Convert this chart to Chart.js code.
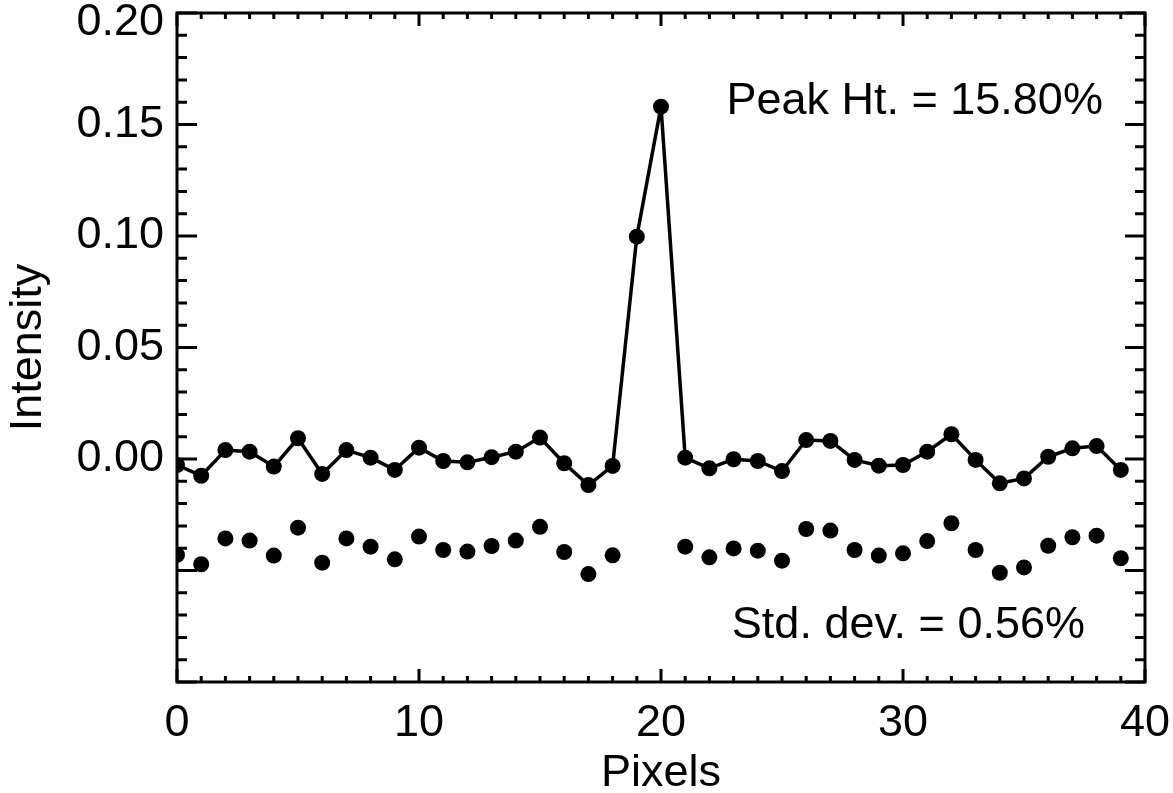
<!DOCTYPE html>
<html>
<head>
<meta charset="utf-8">
<title>Intensity profile</title>
<script src="https://cdn.jsdelivr.net/npm/chart.js@4.4.1/dist/chart.umd.min.js"></script>
<style>
    html, body { margin: 0; padding: 0; background: #fff; }
    #wrap { width: 1173px; height: 793px; }
</style>
</head>
<body>
<div id="wrap"><canvas id="profileChart"></canvas></div>
<script>
// --- Data ---

const pixels = [0, 1, 2, 3, 4, 5, 6, 7, 8, 9,
    10, 11, 12, 13, 14, 15, 16, 17, 18, 19,
    20, 21, 22, 23, 24, 25, 26, 27, 28, 29,
    30, 31, 32, 33, 34, 35, 36, 37, 38, 39];

// profile through the peak (joined by a line)
const profile = [-0.0027, -0.0075, 0.0040, 0.0033, -0.0034, 0.0093, -0.0067, 0.0040, 0.0006, -0.0049,
    0.0051, -0.0009, -0.0015, 0.0008, 0.0033, 0.0096, -0.0019, -0.0117, -0.0031, 0.0997,
    0.1580, 0.0006, -0.0042, -0.0001, -0.0009, -0.0054, 0.0085, 0.0081, -0.0004, -0.0030,
    -0.0027, 0.0033, 0.0111, -0.0004, -0.0109, -0.0087, 0.0010, 0.0048, 0.0058, -0.0049];

// background points only (no values at pixels 19 and 20)
const background = [-0.0430, -0.0472, -0.0356, -0.0366, -0.0433, -0.0308, -0.0465, -0.0356, -0.0393, -0.0450,
    -0.0348, -0.0408, -0.0415, -0.0390, -0.0366, -0.0304, -0.0417, -0.0516, -0.0432, null,
    null, -0.0393, -0.0441, -0.0401, -0.0411, -0.0456, -0.0314, -0.0321, -0.0408, -0.0433,
    -0.0423, -0.0368, -0.0288, -0.0408, -0.0510, -0.0486, -0.0389, -0.0351, -0.0344, -0.0445];

const xTickLabels = [0, 10, 20, 30, 40];
const yTickLabels = ["0.00", "0.05", "0.10", "0.15", "0.20"];

const peakText = "Peak Ht. = 15.80%";
const stdText = "Std. dev. = 0.56%";

// --- Chart setup ---

const FONT = '"Liberation Sans", Arial, Helvetica, sans-serif';
const SIZE = 45;

const toPoints = (ys) => pixels.map((px, i) => ({ x: px, y: ys[i] }));

// IDL style frame: box with inward ticks on all four sides, plus the text notes
const frameTicks = {
    id: "frameTicks",
    afterDatasetsDraw(chart) {
        const { ctx, chartArea: a, scales: { x, y } } = chart;
        ctx.save();
        ctx.strokeStyle = "#000";
        ctx.lineWidth = 3;
        ctx.strokeRect(a.left, a.top, a.right - a.left, a.bottom - a.top);

        ctx.beginPath();
        for (let v = 0; v <= 40; v++) {
            const px = x.getPixelForValue(v);
            const len = v % 10 === 0 ? 13 : 6;
            ctx.moveTo(px, a.bottom);
            ctx.lineTo(px, a.bottom - len);
            ctx.moveTo(px, a.top);
            ctx.lineTo(px, a.top + len);
        }
        for (let i = -10; i <= 20; i++) {
            const py = y.getPixelForValue(i / 100);
            const len = i % 5 === 0 ? 20 : 10;
            ctx.moveTo(a.left, py);
            ctx.lineTo(a.left + len, py);
            ctx.moveTo(a.right, py);
            ctx.lineTo(a.right - len, py);
        }
        ctx.stroke();

        ctx.fillStyle = "#000";
        ctx.font = SIZE + "px " + FONT;

        // top tick label is pushed down so it stays inside the canvas
        ctx.textAlign = "right";
        ctx.textBaseline = "middle";
        const topLabel = yTickLabels[yTickLabels.length - 1];
        ctx.fillText(topLabel, y.right - 13, Math.max(y.getPixelForValue(0.2), 22.5));

        ctx.textBaseline = "alphabetic";
        ctx.fillText(peakText, x.getPixelForValue(38.26), y.getPixelForValue(0.1547));
        ctx.fillText(stdText, x.getPixelForValue(37.52), y.getPixelForValue(-0.0803));
        ctx.restore();
    }
};

const ctx = document.getElementById("profileChart");

new Chart(ctx, {
    type: "scatter",
    data: {
        datasets: [
            {
                label: "Profile",
                data: toPoints(profile),
                showLine: true,
                borderColor: "#000",
                borderWidth: 3.5,
                borderJoinStyle: "round",
                backgroundColor: "#000",
                pointRadius: 8,
                pointBorderWidth: 0,
                tension: 0,
                clip: 0,
            },
            {
                label: "Background",
                data: toPoints(background),
                showLine: false,
                backgroundColor: "#000",
                borderColor: "#000",
                pointRadius: 8,
                pointBorderWidth: 0,
                clip: 0,
            }
        ]
    },
    options: {
        responsive: true,
        maintainAspectRatio: false,
        animation: false,
        layout: { padding: { top: 13, right: 28, left: 0, bottom: 0 } },
        plugins: {
            legend: { display: false },
            tooltip: { enabled: false },
        },
        scales: {
            x: {
                type: "linear",
                min: 0,
                max: 40,
                afterFit: (scale) => {
                    scale.height = 111;
                    scale.paddingLeft = 0;
                    scale.paddingRight = 0;
                },
                afterBuildTicks: (scale) => {
                    scale.ticks = xTickLabels.map((v) => ({ value: v }));
                },
                grid: { display: false, drawTicks: false },
                border: { display: false },
                ticks: {
                    color: "#000",
                    padding: 15,
                    maxRotation: 0,
                    font: { family: FONT, size: SIZE },
                    callback: (v) => String(v),
                },
                title: {
                    display: true,
                    text: "Pixels",
                    color: "#000",
                    padding: 0,
                    font: { family: FONT, size: SIZE, lineHeight: 0.85 },
                },
            },
            y: {
                min: -0.1,
                max: 0.2,
                afterFit: (scale) => {
                    scale.width = 177;
                    scale.paddingTop = 0;
                    scale.paddingBottom = 0;
                },
                afterBuildTicks: (scale) => {
                    scale.ticks = [-0.1, -0.05].map((v) => ({ value: v, label: "" }))
                        .concat(yTickLabels.map((t) => ({ value: parseFloat(t) })));
                },
                grid: { display: false, drawTicks: false },
                border: { display: false },
                ticks: {
                    color: "#000",
                    padding: 13,
                    font: { family: FONT, size: SIZE },
                    callback: (v) => {
                        if (v < -1e-9 || v > 0.199) return "";
                        return yTickLabels.find((t) => Math.abs(parseFloat(t) - v) < 1e-9) || "";
                    },
                },
                title: {
                    display: true,
                    text: "Intensity",
                    color: "#000",
                    padding: { top: 2, bottom: 0 },
                    font: { family: FONT, size: SIZE },
                },
            },
        },
    },
    plugins: [frameTicks],
});
</script>
</body>
</html>
